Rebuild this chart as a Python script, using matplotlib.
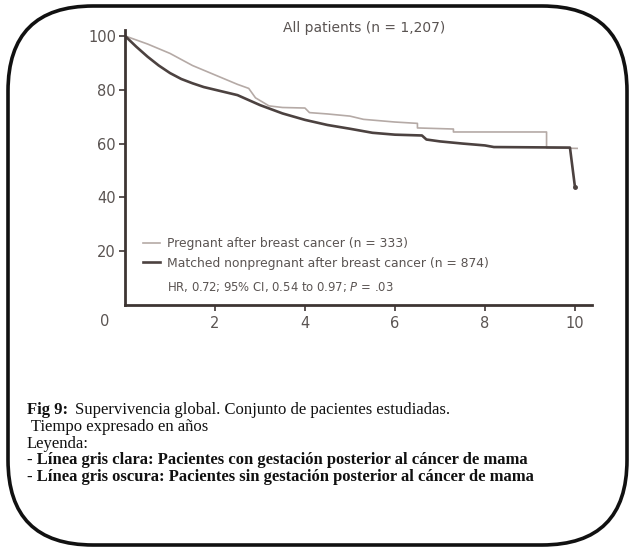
import matplotlib
matplotlib.use("Agg")
import matplotlib.pyplot as plt
from matplotlib.patches import FancyBboxPatch
from matplotlib.transforms import IdentityTransform

W, H = 630, 548

# Kaplan-Meier estimates (years, % survival); repeated times are step drops
preg_t = [0, 0.5, 1.0, 1.5, 2.0, 2.5, 2.75, 2.9, 3.2, 3.5, 4.0, 4.1, 4.5, 5.0,
          5.3, 6.0, 6.5, 6.5, 7.3, 7.3, 9.37, 9.37, 10.05]
preg_s = [100, 97, 93.5, 89, 85.5, 82, 80.5, 77, 74, 73.4, 73.2, 71.5, 71, 70.2,
          69, 68, 67.5, 65.8, 65.4, 64.3, 64.3, 58.4, 58.2]

nonpreg_t = [0, 0.25, 0.5, 0.75, 1.0, 1.25, 1.5, 1.75, 2.0, 2.5, 3.0, 3.5, 4.0,
             4.5, 5.0, 5.5, 6.0, 6.6, 6.7, 7.0, 7.5, 8.0, 8.2, 9.89, 10.0]
nonpreg_s = [100, 96, 92.3, 89, 86.2, 84, 82.4, 81, 80, 78, 74.3, 71.2, 68.8,
             66.9, 65.5, 64, 63.3, 63, 61.5, 60.8, 60, 59.3, 58.7, 58.5, 44]

xticks = [2, 4, 6, 8, 10]
yticks = [20, 40, 60, 80, 100]

title = "All patients (n = 1,207)"
labels = ["Pregnant after breast cancer (n = 333)",
          "Matched nonpregnant after breast cancer (n = 874)"]
stats = r"HR, 0.72; 95% CI, 0.54 to 0.97; $\it{P}$ = .03"

caption = [
    " Tiempo expresado en años",
    "Leyenda:",
    "- Línea gris clara: Pacientes con gestación posterior al cáncer de mama",
    "- Línea gris oscura: Pacientes sin gestación posterior al cáncer de mama",
]

LIGHT = "#b5aaa6"
DARK = "#4c4240"
AXIS = "#3e3533"
LABEL = "#5a5452"

fig = plt.figure(figsize=(W / 100, H / 100), dpi=100)
fig.patch.set_facecolor("white")


def fx(px):
    return px / W


def fy(py):
    return 1 - py / H


ax = fig.add_axes([fx(125), fy(305), 467 / W, 275 / H])
ax.plot(preg_t, preg_s, color=LIGHT, lw=1.2, label=labels[0])
ax.plot(nonpreg_t, nonpreg_s, color=DARK, lw=1.9, label=labels[1])
ax.plot([nonpreg_t[-1]], [nonpreg_s[-1]], marker="o", ms=2.5, color=DARK)

ax.set_xlim(0, 10.38)
ax.set_ylim(0, 102.2)
for s in ["top", "right"]:
    ax.spines[s].set_visible(False)
for s in ["left", "bottom"]:
    ax.spines[s].set_color(AXIS)
    ax.spines[s].set_linewidth(2.0)
ax.set_xticks(xticks)
ax.set_yticks(yticks)
ax.tick_params(axis="both", colors=AXIS, labelcolor=LABEL, labelsize=10.5,
               length=4, width=1.2, direction="out")
ax.tick_params(axis="y", pad=2.5)
ax.tick_params(axis="x", pad=4)
ax.annotate("0", xy=(0, 0), xytext=(-20, -17), textcoords="offset pixels",
            ha="center", va="center", fontsize=10.5, color=LABEL)

fig.text(fx(364), fy(28), title, ha="center", va="center",
         fontsize=10, color=LABEL)

ax.legend(loc="upper left", bbox_to_anchor=((143 - 125) / 467, (305 - 237) / 275),
          frameon=False, fontsize=8.9, labelcolor=LABEL, handlelength=1.4,
          handletextpad=0.55, borderpad=0, borderaxespad=0, labelspacing=0.55)
ax.text((167 - 125) / 467, (305 - 287) / 275, stats, transform=ax.transAxes,
        ha="left", va="center", fontsize=8.4, color=LABEL)

# caption below the chart
serif = dict(family="Liberation Serif", color="#111111", fontsize=12,
             ha="left", va="center")
fig.text(fx(27), fy(410), "Fig 9:", weight="bold", **serif)
fig.text(fx(75), fy(410), "Supervivencia global. Conjunto de pacientes estudiadas.",
         **serif)
for i, line in enumerate(caption):
    fig.text(fx(27), fy(427 + 16.7 * i), line,
             weight="bold" if line.startswith("-") else "normal", **serif)

# rounded frame around the whole figure
frame = FancyBboxPatch((8, 3), 619, 539, boxstyle="round,pad=0,rounding_size=85",
                       transform=IdentityTransform(), fill=False,
                       edgecolor="#111111", lw=2.6)
fig.patches.append(frame)

fig.savefig("out.png", dpi=100)
